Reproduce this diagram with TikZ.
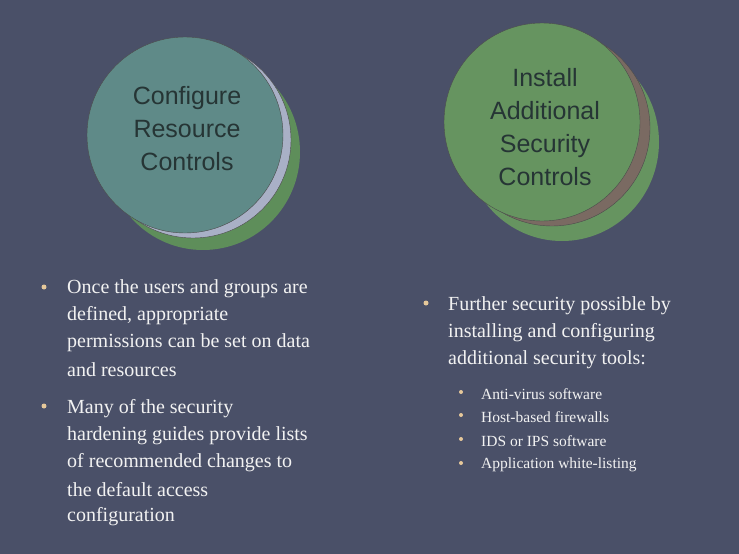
\documentclass[tikz,border=0pt]{standalone}
\usepackage{fontspec}
\setmainfont{Liberation Serif}
\newfontfamily\circfont{Liberation Sans}
\definecolor{bg}{HTML}{4A5068}
\definecolor{teal}{HTML}{5F8A88}
\definecolor{silver}{HTML}{A9B0C6}
\definecolor{grn}{HTML}{5E8E5A}
\definecolor{grnb}{HTML}{669460}
\definecolor{brn}{HTML}{7A6A62}
\definecolor{ctext}{HTML}{263535}
\definecolor{bul}{HTML}{E6C89A}
\definecolor{txt}{HTML}{F2F2F2}
\begin{document}
\begin{tikzpicture}[x=1pt,y=-1pt,
  disc/.style={draw=black!70,line width=0.4pt},
  ctxt/.style={font=\circfont\fontsize{25}{33}\selectfont,text=ctext,align=center},
  line/.style={anchor=west,font=\fontsize{20}{27}\selectfont,text=txt,inner sep=0},
  sline/.style={anchor=west,font=\fontsize{15.5}{20}\selectfont,text=txt,inner sep=0},
  dot/.style={circle,fill=bul,inner sep=0,minimum size=5pt},
  sdot/.style={circle,fill=bul,inner sep=0,minimum size=4pt}]
\fill[bg] (0,0) rectangle (739,554);
\useasboundingbox (0,0) rectangle (739,554);
% left circles
\fill[grn] (203,152) ellipse (97 and 98);
\filldraw[disc,fill=silver] (193,140) ellipse (98 and 98);
\filldraw[disc,fill=teal] (185,135) ellipse (98 and 98);
\node[ctxt] (c1) at (187,129) {Configure\\Resource\\Controls};
% right circles
\fill[grnb] (562,142) ellipse (97 and 99);
\filldraw[disc,fill=brn] (552,128) ellipse (98 and 98);
\filldraw[disc,fill=grnb] (542,122) ellipse (98 and 99);
\node[ctxt] (c2) at (545,127) {Install\\Additional\\Security\\Controls};
% left bullets
\node[dot] (b1) at (44,287) {};
\node[line] (l1) at (67,289) {Once the users and groups are};
\node[line] (l2) at (67,316) {defined, appropriate};
\node[line] (l3) at (67,343) {permissions can be set on data};
\node[line] (l4) at (67,370) {and resources};
\node[dot] (b2) at (44,406) {};
\node[line] (l5) at (67,409) {Many of the security};
\node[line] (l6) at (67,436) {hardening guides provide lists};
\node[line] (l7) at (67,463) {of recommended changes to};
\node[line] (l8) at (67,490) {the default access};
\node[line] (l9) at (67,517) {configuration};
% right bullets
\node[dot] (b3) at (426,303) {};
\node[line] (r1) at (448,306) {Further security possible by};
\node[line] (r2) at (448,333) {installing and configuring};
\node[line] (r3) at (448,360) {additional security tools:};
\node[sdot] (s1) at (461,392) {};
\node[sline] (t1) at (481,394) {Anti-virus software};
\node[sdot] (s2) at (461,415) {};
\node[sline] (t2) at (481,417) {Host-based firewalls};
\node[sdot] (s3) at (461,439) {};
\node[sline] (t3) at (481,441) {IDS or IPS software};
\node[sdot] (s4) at (461,463) {};
\node[sline] (t4) at (481,465) {Application white-listing};
\end{tikzpicture}
\end{document}
